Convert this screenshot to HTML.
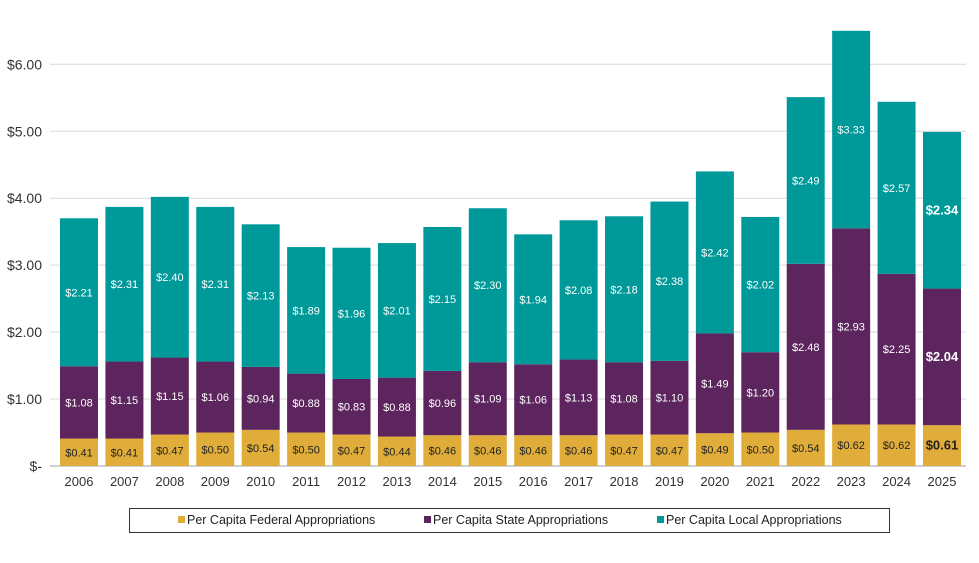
<!DOCTYPE html>
<html><head><meta charset="utf-8"><style>
body{margin:0;background:#fff;font-family:"Liberation Sans",sans-serif}
</style></head><body>
<svg id="chart" width="979" height="558" xmlns="http://www.w3.org/2000/svg"></svg>
<script>
const years=["2006","2007","2008","2009","2010","2011","2012","2013","2014","2015","2016","2017","2018","2019","2020","2021","2022","2023","2024","2025"];
const federal=[0.41,0.41,0.47,0.50,0.54,0.50,0.47,0.44,0.46,0.46,0.46,0.46,0.47,0.47,0.49,0.50,0.54,0.62,0.62,0.61];
const state=[1.08,1.15,1.15,1.06,0.94,0.88,0.83,0.88,0.96,1.09,1.06,1.13,1.08,1.10,1.49,1.20,2.48,2.93,2.25,2.04];
const local=[2.21,2.31,2.40,2.31,2.13,1.89,1.96,2.01,2.15,2.30,1.94,2.08,2.18,2.38,2.42,2.02,2.49,2.95,2.57,2.34];
const localLabels=["$2.21","$2.31","$2.40","$2.31","$2.13","$1.89","$1.96","$2.01","$2.15","$2.30","$1.94","$2.08","$2.18","$2.38","$2.42","$2.02","$2.49","$3.33","$2.57","$2.34"];
const ticks=[0,1,2,3,4,5,6];
const tickLabels=["$-","$1.00","$2.00","$3.00","$4.00","$5.00","$6.00"];
const svg=document.getElementById('chart');const NS="http://www.w3.org/2000/svg";
const y0=466,pxPer=66.95,x0=79,step=45.42,bw=38;
const Y=v=>y0-v*pxPer, X=i=>x0+i*step;
function mk(t,a,txt){const e=document.createElementNS(NS,t);for(const k in a)e.setAttribute(k,a[k]);if(txt!=null)e.textContent=txt;svg.appendChild(e);return e;}
ticks.forEach((t,i)=>{
 const g=mk('line',{x1:50,x2:966,y1:Y(t),y2:Y(t),stroke:i==0?'#d0d0d0':'#d9d9d9','stroke-width':i==0?2:1});
 
 
 const l=mk('text',{x:42,y:Y(t)+5,'text-anchor':'end','font-size':14,fill:'#333'},tickLabels[i]);
 
 
});
const series=[[federal,'#E0AD3A','#222','federal',null],[state,'#5C255E','#fff','state',null],[local,'#009999','#fff','local',localLabels]];
years.forEach((yr,i)=>{
 let base=0;const bold=i==years.length-1;
 series.forEach(([arr,col,tc,nm,labs])=>{
  const v=arr[i];
  const r=mk('rect',{x:X(i)-bw/2,y:Y(base+v),width:bw,height:v*pxPer,fill:col});
  
  
  const t=mk('text',{x:X(i),y:Y(base+v/2)+4,'text-anchor':'middle','font-size':bold?13:11,'font-weight':bold?'bold':'normal',fill:tc},labs?labs[i]:'$'+v.toFixed(2));
  
  
  base+=v;
 });
 const xl=mk('text',{x:X(i),y:486,'text-anchor':'middle','font-size':13,fill:'#333'},yr);
 
 
});
const lg=mk('rect',{x:129.5,y:508.5,width:760,height:24,fill:'#fff',stroke:'#333'});


[['Per Capita Federal Appropriations','#E0AD3A',178],['Per Capita State Appropriations','#5C255E',424],['Per Capita Local Appropriations','#009999',657]].forEach(([n,c,x])=>{
 const s=mk('rect',{x:x,y:516,width:7,height:7,fill:c});
 
 
 const t=mk('text',{x:x+9,y:524,'font-size':12.5,fill:'#222'},n);
 
 
});
</script>
</body></html>
